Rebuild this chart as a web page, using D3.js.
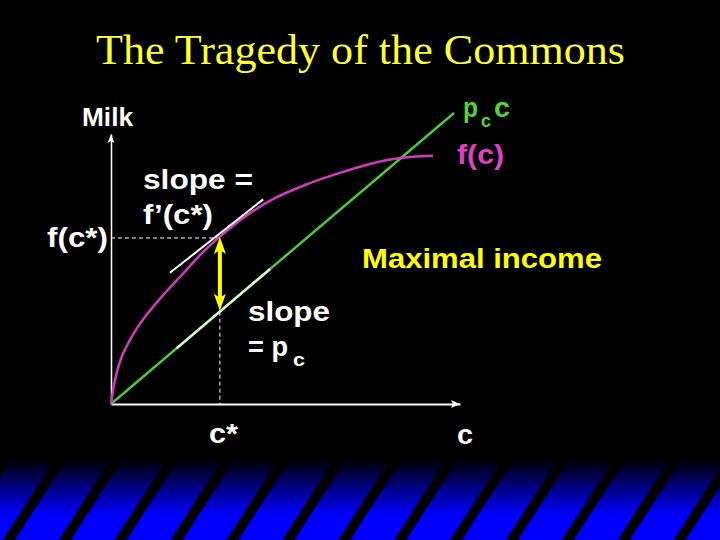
<!DOCTYPE html>
<html>
<head>
<meta charset="utf-8">
<script src="https://cdn.jsdelivr.net/npm/d3@7/dist/d3.min.js"></script>
<style>
html,body{margin:0;padding:0;background:#000;}
svg{display:block;}
</style>
</head>
<body>
<svg id="chart" width="720" height="540"></svg>
<script>
// ---- data (units: c 0..100, milk 0..100) ----
const curveC    = [0, 1.15, 3.07, 5.93, 9.74, 14.5, 20.3, 26.0, 31.2, 38.4, 46.0, 55.6, 65.1, 74.7, 82.3, 92.3];
const curveMilk = [0, 8.9, 17.5, 24.9, 32.3, 39.7, 47.8, 55.8, 62.0, 69.4, 75.6, 81.1, 85.4, 89.1, 91.0, 91.9];
const incomeC    = [0, 98.3];
const incomeMilk = [0, 107.8];
const cStar = 31.2;
const fcStar = 61.5;
const pcStar = 34.2;
const tangentC    = [16.9, 43.6];
const tangentMilk = [48.6, 75.8];
const highlightC  = [18.8, 45.6];
const xDomain = [0, 100];
const yDomain = [0, 100];
const titleText = "The Tragedy of the Commons";

const svg = d3.select("#chart");
const W = 720, H = 540;

svg.append("rect").attr("width", W).attr("height", H).attr("fill", "#000");

// ---- bottom decorative band ----
const defs = svg.append("defs");
const grad = defs.append("linearGradient").attr("id", "band")
  .attr("x1", 0).attr("y1", 0).attr("x2", 0).attr("y2", 1);
grad.append("stop").attr("offset", "0%").attr("stop-color", "#000000");
grad.append("stop").attr("offset", "70%").attr("stop-color", "#0000ff");
grad.append("stop").attr("offset", "100%").attr("stop-color", "#0000ff");
const bandTop = 459;
svg.append("rect").attr("x", 0).attr("y", bandTop).attr("width", W).attr("height", H - bandTop)
  .attr("fill", "url(#band)");
const stripeIdx = d3.range(-1, 14);
svg.append("g").selectAll("path").data(stripeIdx).join("path")
  .attr("fill", "#000")
  .attr("d", k => {
    const xt = 61 + 55.9 * k, xb = xt - 52, hw = 6;
    return `M${xt - hw},${bandTop} L${xt + hw},${bandTop} L${xb + hw},${H} L${xb - hw},${H} Z`;
  });

// ---- title ----
svg.append("text").attr("x", 96).attr("y", 64)
  .attr("font-family", "'Liberation Serif','Times New Roman',serif")
  .attr("font-size", 43).attr("fill", "#ffff33")
  .attr("textLength", 529).attr("lengthAdjust", "spacingAndGlyphs")
  .text(titleText);

// ---- scales ----
const x = d3.scaleLinear().domain(xDomain).range([111, 460]);
const y = d3.scaleLinear().domain(yDomain).range([404, 134]);

// axes (no ticks, just the lines)
svg.append("g").attr("transform", `translate(0,${y(0)})`)
  .call(d3.axisBottom(x).tickValues([]).tickSizeOuter(0))
  .call(g => g.select(".domain").attr("stroke", "#fff").attr("stroke-width", 2));
svg.append("g").attr("transform", `translate(${x(0)},0)`)
  .call(d3.axisLeft(y).tickValues([]).tickSizeOuter(0))
  .call(g => g.select(".domain").attr("stroke", "#fff").attr("stroke-width", 1.5));
// axis arrowheads
svg.append("path").attr("fill", "#fff")
  .attr("d", `M${x(100)},${y(0)} l-9,-4 l2,4 l-2,4 Z`);
svg.append("path").attr("fill", "#fff")
  .attr("d", `M${x(0)},${y(100)} l-3.5,9 l3.5,-2 l3.5,2 Z`);

// dashed guides
svg.append("line").attr("x1", x(0)).attr("x2", x(cStar)).attr("y1", y(fcStar)).attr("y2", y(fcStar))
  .attr("stroke", "#fff").attr("stroke-width", 1).attr("stroke-dasharray", "4,3");
svg.append("line").attr("x1", x(cStar)).attr("x2", x(cStar)).attr("y1", y(pcStar)).attr("y2", y(0))
  .attr("stroke", "#fff").attr("stroke-width", 1).attr("stroke-dasharray", "4,3");

// income line p_c c
const incomePts = incomeC.map((c, i) => [c, incomeMilk[i]]);
const line = d3.line().x(d => x(d[0])).y(d => y(d[1]));
svg.append("path").datum(incomePts).attr("d", line)
  .attr("fill", "none").attr("stroke", "#4fc83a").attr("stroke-width", 2.5);

// production curve f(c)
const curvePts = curveC.map((c, i) => [c, curveMilk[i]]);
svg.append("path").datum(curvePts)
  .attr("d", d3.line().x(d => x(d[0])).y(d => y(d[1])).curve(d3.curveCatmullRom.alpha(0.5)))
  .attr("fill", "none").attr("stroke", "#cf3cbf").attr("stroke-width", 2.5);

// highlighted part of income line
const slopeIncome = incomeMilk[1] / incomeC[1];
svg.append("path").datum(highlightC.map(c => [c, c * slopeIncome])).attr("d", line)
  .attr("fill", "none").attr("stroke", "#f4fff0").attr("stroke-width", 2.5).attr("stroke-opacity", 0.85);

// tangent
svg.append("path").datum(tangentC.map((c, i) => [c, tangentMilk[i]])).attr("d", line)
  .attr("fill", "none").attr("stroke", "#fff").attr("stroke-width", 2);

// yellow double arrow
const ax = x(cStar), ay1 = y(fcStar) - 1, ay2 = y(pcStar) - 1;
svg.append("line").attr("x1", ax).attr("x2", ax).attr("y1", ay1 + 12).attr("y2", ay2 - 12)
  .attr("stroke", "#ffff00").attr("stroke-width", 4);
svg.append("path").attr("fill", "#ffff00")
  .attr("d", `M${ax},${ay1} L${ax - 6},${ay1 + 17} L${ax},${ay1 + 13} L${ax + 6},${ay1 + 17} Z`);
svg.append("path").attr("fill", "#ffff00")
  .attr("d", `M${ax},${ay2} L${ax - 6},${ay2 - 17} L${ax},${ay2 - 13} L${ax + 6},${ay2 - 17} Z`);

// ---- labels ----
const SANS = "'Liberation Sans',Arial,Helvetica,sans-serif";
function label(tx, ty, str, size, color, width) {
  return svg.append("text").attr("x", tx).attr("y", ty)
    .attr("font-family", SANS).attr("font-weight", "bold")
    .attr("font-size", size).attr("fill", color)
    .attr("textLength", width).attr("lengthAdjust", "spacingAndGlyphs")
    .text(str);
}
label(82, 126, "Milk", 25, "#fff", 51);
label(47, 247, "f(c*)", 28, "#fff", 61);
label(143, 189, "slope =", 28, "#fff", 110);
label(143, 224, "f\u2019(c*)", 28, "#fff", 70);
label(248, 321, "slope", 28, "#fff", 82);
label(248, 356, "= p", 28, "#fff", 40);
label(293, 366, "c", 18, "#fff", 12);
label(362, 268, "Maximal income", 27, "#ffff00", 240);
label(463, 117, "p", 28, "#4fd63a", 15);
label(481, 127, "c", 18, "#4fd63a", 10);
label(494, 117, "c", 28, "#4fd63a", 16);
label(457, 164, "f(c)", 28, "#e040c8", 47);
label(209, 443, "c*", 28, "#fff", 29);
label(457, 444, "c", 28, "#fff", 16);
</script>
</body>
</html>
